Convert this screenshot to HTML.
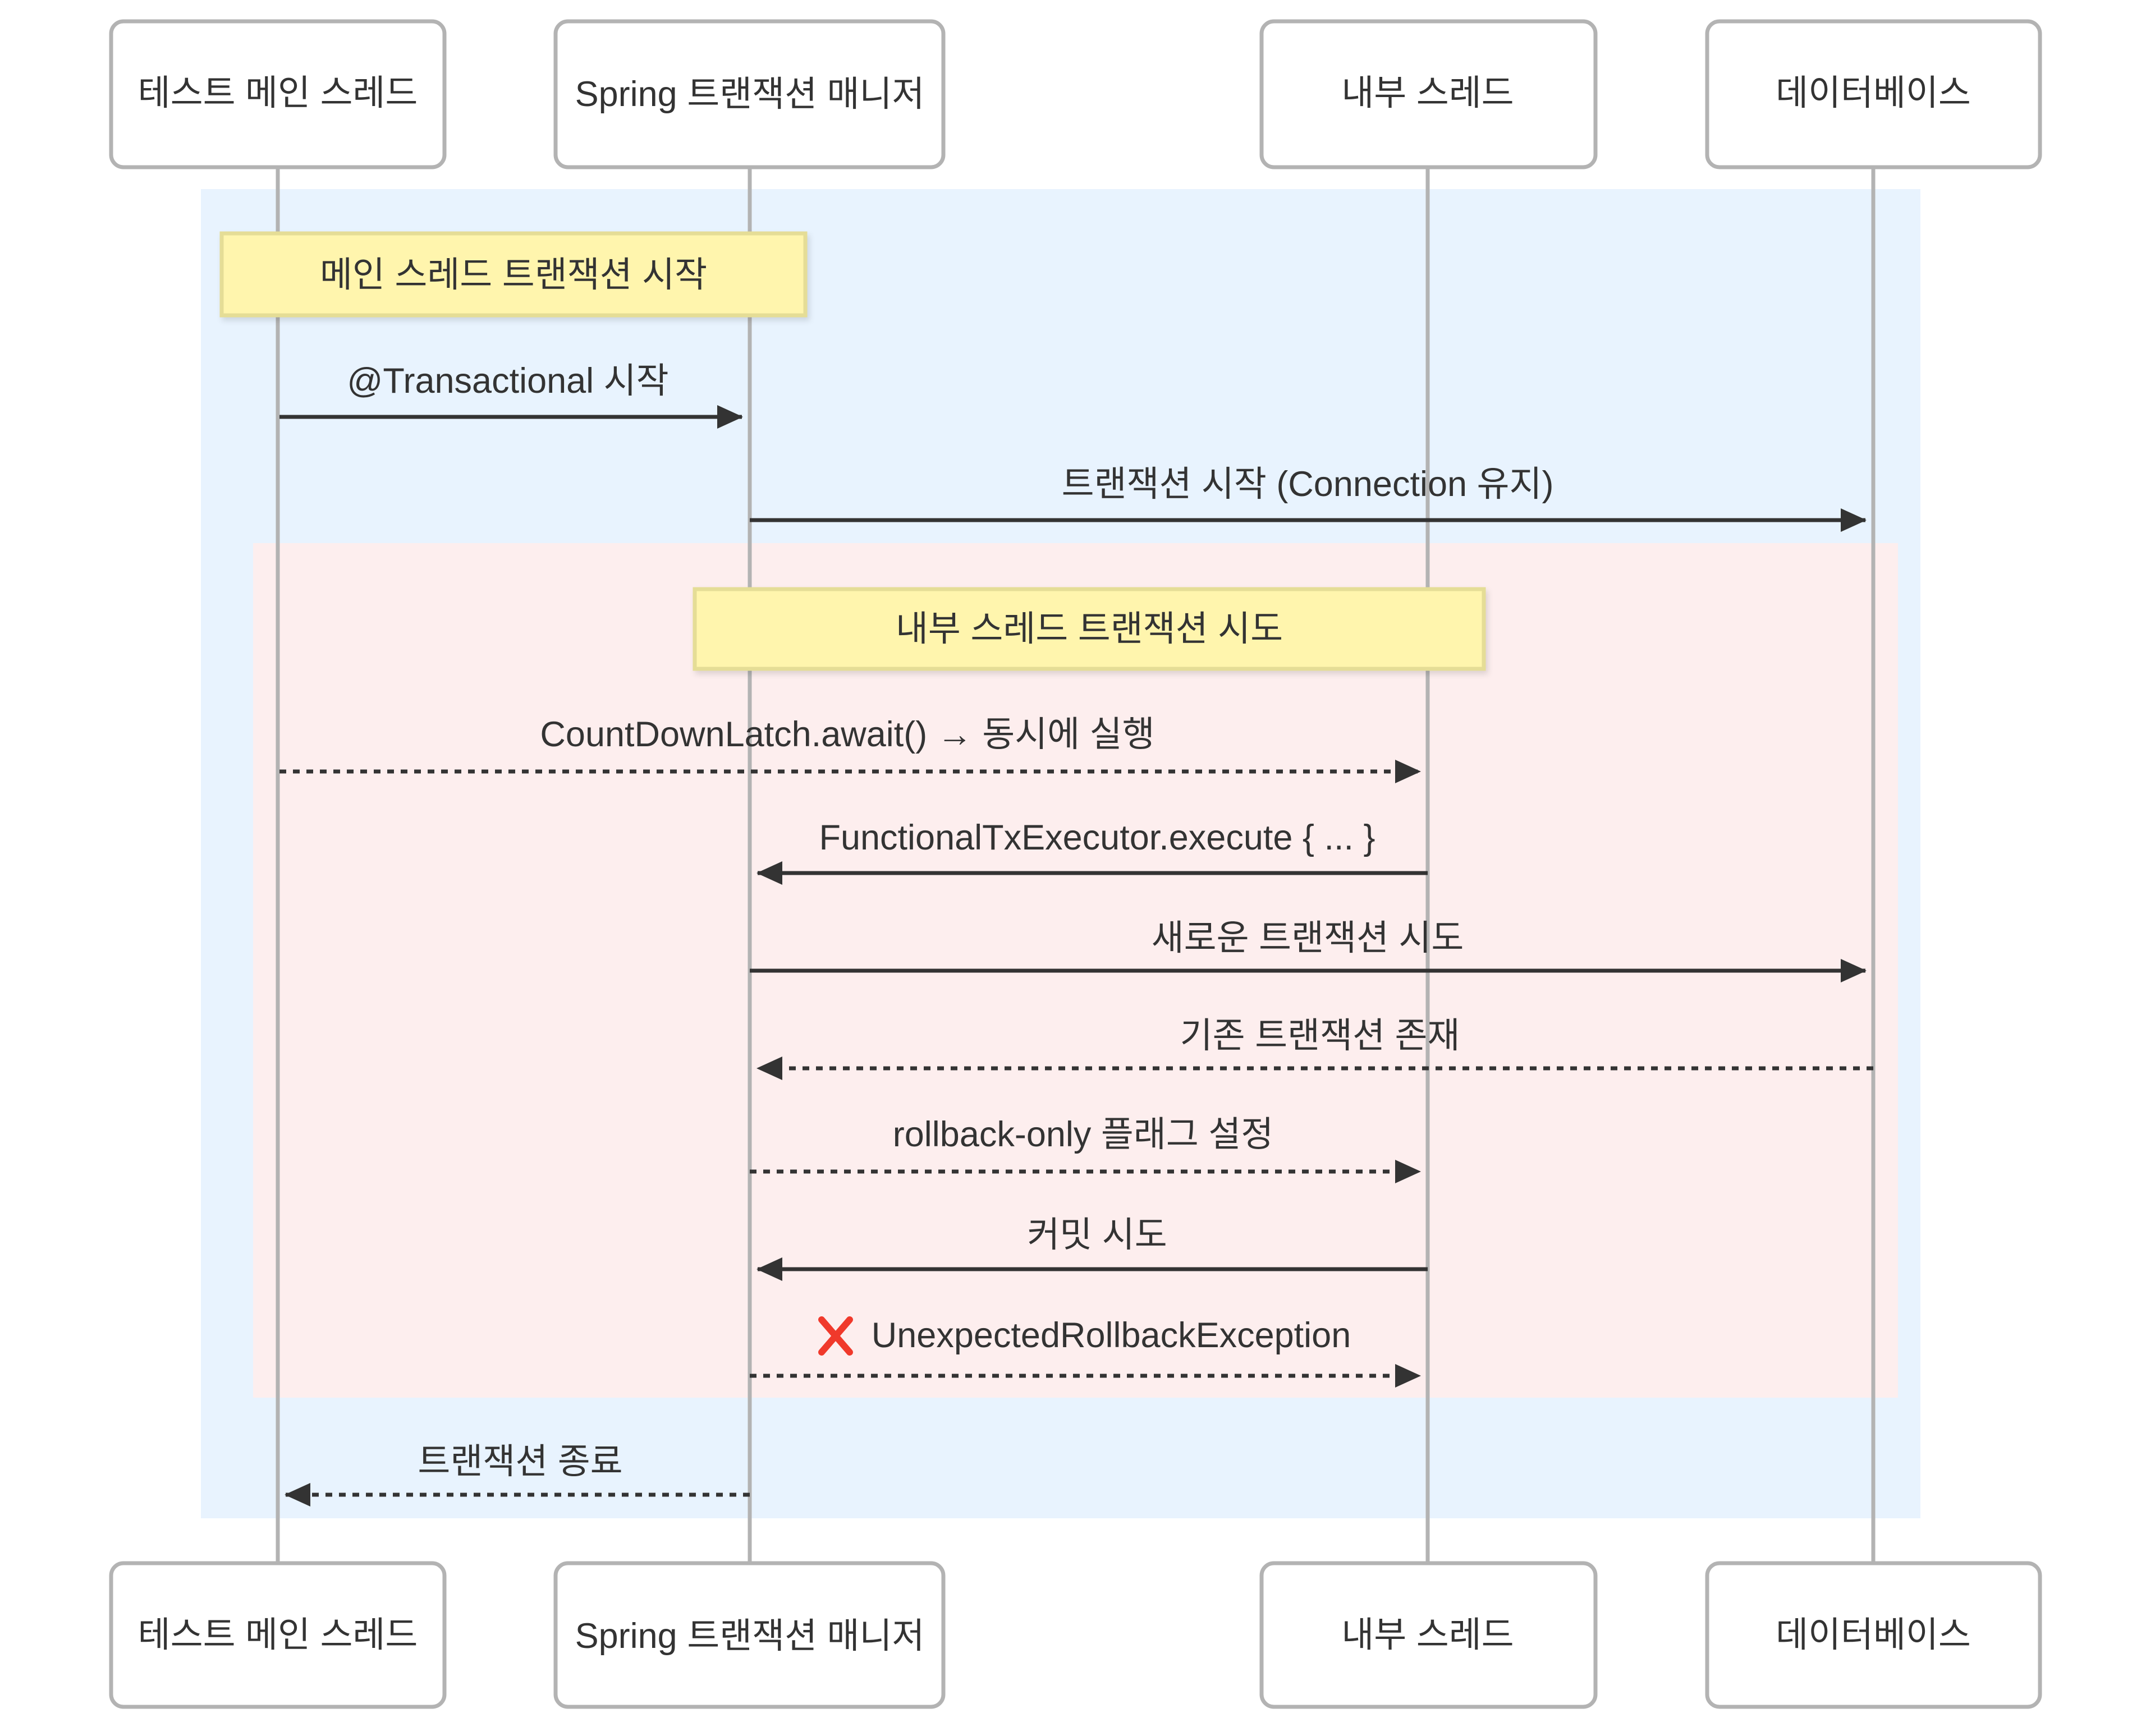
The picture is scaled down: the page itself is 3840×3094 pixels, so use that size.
<!DOCTYPE html>
<html><head><meta charset="utf-8"><style>
html,body{margin:0;padding:0;background:#fff;}
svg{display:block;}
text{font-family:"Liberation Sans","Noto Sans CJK KR",sans-serif;font-size:63px;fill:#333;text-anchor:middle;dominant-baseline:central;}
</style></head><body>
<svg width="3840" height="3094" viewBox="0 0 3840 3094" xmlns="http://www.w3.org/2000/svg">
<defs>
<marker id="ah" markerUnits="userSpaceOnUse" markerWidth="46" markerHeight="42" refX="44" refY="21" orient="auto">
<path d="M0,0 L46,21 L0,42 z" fill="#333"/>
</marker>
<filter id="sh" x="-5%" y="-20%" width="110%" height="140%"><feDropShadow dx="4" dy="6" stdDeviation="5" flood-color="#000" flood-opacity="0.12"/></filter>
</defs>
<rect x="358" y="337" width="3064" height="2369" fill="#e8f3fe"/>
<rect x="451" y="968" width="2931" height="1523" fill="#fdeeee"/>
<g stroke="#b3b3b3" stroke-width="7">
<line x1="495" y1="298" x2="495" y2="2786"/>
<line x1="1336" y1="298" x2="1336" y2="2786"/>
<line x1="2544" y1="298" x2="2544" y2="2786"/>
<line x1="3338" y1="298" x2="3338" y2="2786"/>
</g>
<g fill="#fff" stroke="#b3b3b3" stroke-width="7">
<rect x="198" y="38" width="594" height="260" rx="22"/>
<rect x="990" y="38" width="691" height="260" rx="22"/>
<rect x="2248" y="38" width="595" height="260" rx="22"/>
<rect x="3042" y="38" width="593" height="260" rx="22"/>
<rect x="198" y="2786" width="594" height="256" rx="22"/>
<rect x="990" y="2786" width="691" height="256" rx="22"/>
<rect x="2248" y="2786" width="595" height="256" rx="22"/>
<rect x="3042" y="2786" width="593" height="256" rx="22"/>
</g>
<text x="495" y="166">테스트 메인 스레드</text>
<text x="1336" y="168">Spring 트랜잭션 매니저</text>
<text x="2544" y="166">내부 스레드</text>
<text x="3338" y="166">데이터베이스</text>
<text x="495" y="2914">테스트 메인 스레드</text>
<text x="1336" y="2916">Spring 트랜잭션 매니저</text>
<text x="2544" y="2914">내부 스레드</text>
<text x="3338" y="2914">데이터베이스</text>
<g fill="#fff5ad" stroke="#e5dd96" stroke-width="7" filter="url(#sh)">
<rect x="395" y="416" width="1040" height="146"/>
<rect x="1238" y="1050" width="1406" height="142"/>
</g>
<text x="915" y="490">메인 스레드 트랜잭션 시작</text>
<text x="1941" y="1121">내부 스레드 트랜잭션 시도</text>
<g stroke="#333" stroke-width="7" fill="none" marker-end="url(#ah)">
<line x1="498" y1="743" x2="1322" y2="743"/>
<line x1="1336" y1="927" x2="3324" y2="927"/>
<line x1="498" y1="1375" x2="2530" y2="1375" stroke-dasharray="12,12"/>
<line x1="2544" y1="1556" x2="1350" y2="1556"/>
<line x1="1336" y1="1730" x2="3324" y2="1730"/>
<line x1="3338" y1="1904" x2="1350" y2="1904" stroke-dasharray="12,12"/>
<line x1="1336" y1="2088" x2="2530" y2="2088" stroke-dasharray="12,12"/>
<line x1="2544" y1="2262" x2="1350" y2="2262"/>
<line x1="1336" y1="2452" x2="2530" y2="2452" stroke-dasharray="12,12"/>
<line x1="1336" y1="2664" x2="509" y2="2664" stroke-dasharray="12,12"/>
</g>
<text x="905" y="679">@Transactional 시작</text>
<text x="2330" y="863">트랜잭션 시작 (Connection 유지)</text>
<text x="1510" y="1309">CountDownLatch.await() → 동시에 실행</text>
<text x="1955" y="1493">FunctionalTxExecutor.execute { ... }</text>
<text x="2330" y="1672">새로운 트랜잭션 시도</text>
<text x="2352" y="1846">기존 트랜잭션 존재</text>
<text x="1930" y="2022">rollback-only 플래그 설정</text>
<text x="1955" y="2201">커밋 시도</text>
<g stroke="#f0392b" stroke-width="12" stroke-linecap="round">
<line x1="1464" y1="2352" x2="1514" y2="2410"/>
<line x1="1514" y1="2352" x2="1464" y2="2410"/>
</g>
<text x="1980" y="2380">UnexpectedRollbackException</text>
<text x="927" y="2605">트랜잭션 종료</text>
</svg>
</body></html>
